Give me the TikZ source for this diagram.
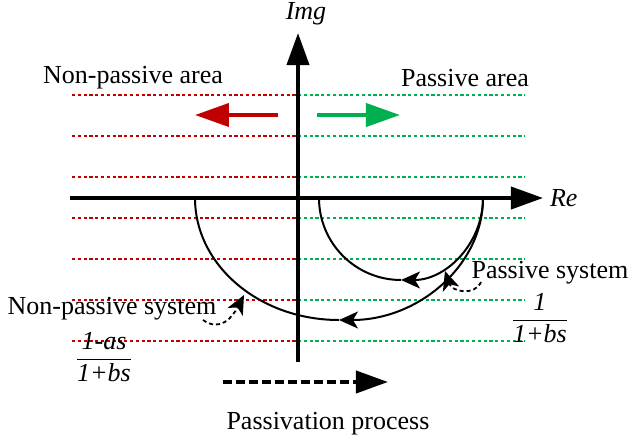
\documentclass[tikz,border=0pt]{standalone}
\usepackage{fontspec}
\setmainfont{Liberation Serif}
\usepackage{xcolor}
\usepackage{tikz}
\usetikzlibrary{arrows.meta,positioning}

\definecolor{nonpassred}{RGB}{192,0,0}
\definecolor{passgreen}{RGB}{0,176,80}

\begin{document}
\begin{tikzpicture}[x=0.5pt, y=-0.5pt, >=Stealth, font=\fontsize{13}{15}\selectfont]
    \tikzstyle{axis} = [line width=2pt, -{Triangle[length=16pt,width=11pt]}]
    \tikzstyle{areaarrow} = [line width=2pt, -{Triangle[length=17pt,width=11.5pt]}]
    \tikzstyle{redgrid} = [draw=nonpassred, line width=0.9pt, dash pattern=on 1.6pt off 1.3pt]
    \tikzstyle{greengrid} = [draw=passgreen, line width=0.9pt, dash pattern=on 1.6pt off 1.3pt]
    \tikzstyle{nyquist} = [line width=1pt]
    \tikzstyle{curvearrow} = [line width=1pt, -{Stealth[length=9.5pt,width=8.5pt,inset=2.5pt]}]
    \tikzstyle{note} = [line width=0.9pt, dash pattern=on 2pt off 1.5pt, -{Stealth[length=9.5pt,width=8.5pt,inset=2.5pt]}]
    \tikzstyle{passarrow} = [line width=2pt, dash pattern=on 4.5pt off 2pt, -{Triangle[length=16pt,width=11pt,sep=0pt]}]

    \useasboundingbox (0,0) rectangle (629,441);

    % dotted region lines
    \foreach \y in {95,136,...,341} {
        \draw[redgrid] (72,\y) -- (298,\y);
        \draw[greengrid] (298,\y) -- (525,\y);
    }

    % axes
    \coordinate (reL) at (70,198);
    \coordinate (reR) at (543,198);
    \coordinate (imB) at (298,362);
    \coordinate (imT) at (298,33);
    \draw[axis] (reL) -- (reR);
    \draw[axis] (imB) -- (imT);
    \node[right=0pt of reR] (re) {\textit{Re}};
    \node at (306,14) (img) {\textit{Img}};

    % area arrows and labels
    \coordinate (redS) at (278,115);
    \coordinate (redE) at (195,115);
    \coordinate (greenS) at (317,115);
    \coordinate (greenE) at (400,115);
    \draw[areaarrow, nonpassred] (redS) -- (redE);
    \draw[areaarrow, passgreen] (greenS) -- (greenE);
    \node at (133,78) (npa) {Non-passive area};
    \node at (465,78) (pa) {Passive area};

    % non-passive system curve
    \coordinate (bigR) at (483,198);
    \coordinate (bigB) at (339,320);
    \draw[curvearrow] (bigR) arc[start angle=0, end angle=90, x radius=144, y radius=122];
    \draw[nyquist] (bigB) arc[start angle=90, end angle=180, x radius=144, y radius=122];

    % passive system curve
    \coordinate (smallR) at (483,198);
    \coordinate (smallB) at (401,280);
    \draw[curvearrow] (smallR) arc[start angle=0, end angle=90, radius=82];
    \draw[nyquist] (smallB) arc[start angle=90, end angle=180, radius=82];

    % annotations
    \node at (112,309) (nps) {Non-passive system};
    \node at (104,357) (npstf) {$\displaystyle\frac{\textit{1-as}}{\textit{1+bs}}$};
    \coordinate (npsFoot) at (203,320);
    \coordinate (npsTip) at (244,295);
    \draw[note] (npsFoot) .. controls (220,332) and (232,318) .. (npsTip);

    \node at (550,273) (ps) {Passive system};
    \node at (540,318) (pstf) {$\displaystyle\frac{\textit{1}}{\textit{1+bs}}$};
    \coordinate (psFoot) at (481,282);
    \coordinate (psTip) at (445,271);
    \draw[note] (psFoot) .. controls (475,296) and (452,292) .. (psTip);

    % passivation process
    \coordinate (pasS) at (223,382);
    \coordinate (pasE) at (388,382);
    \draw[passarrow] (pasS) -- (pasE);
    \node at (328,424) (pasLbl) {Passivation process};
\end{tikzpicture}
\end{document}
